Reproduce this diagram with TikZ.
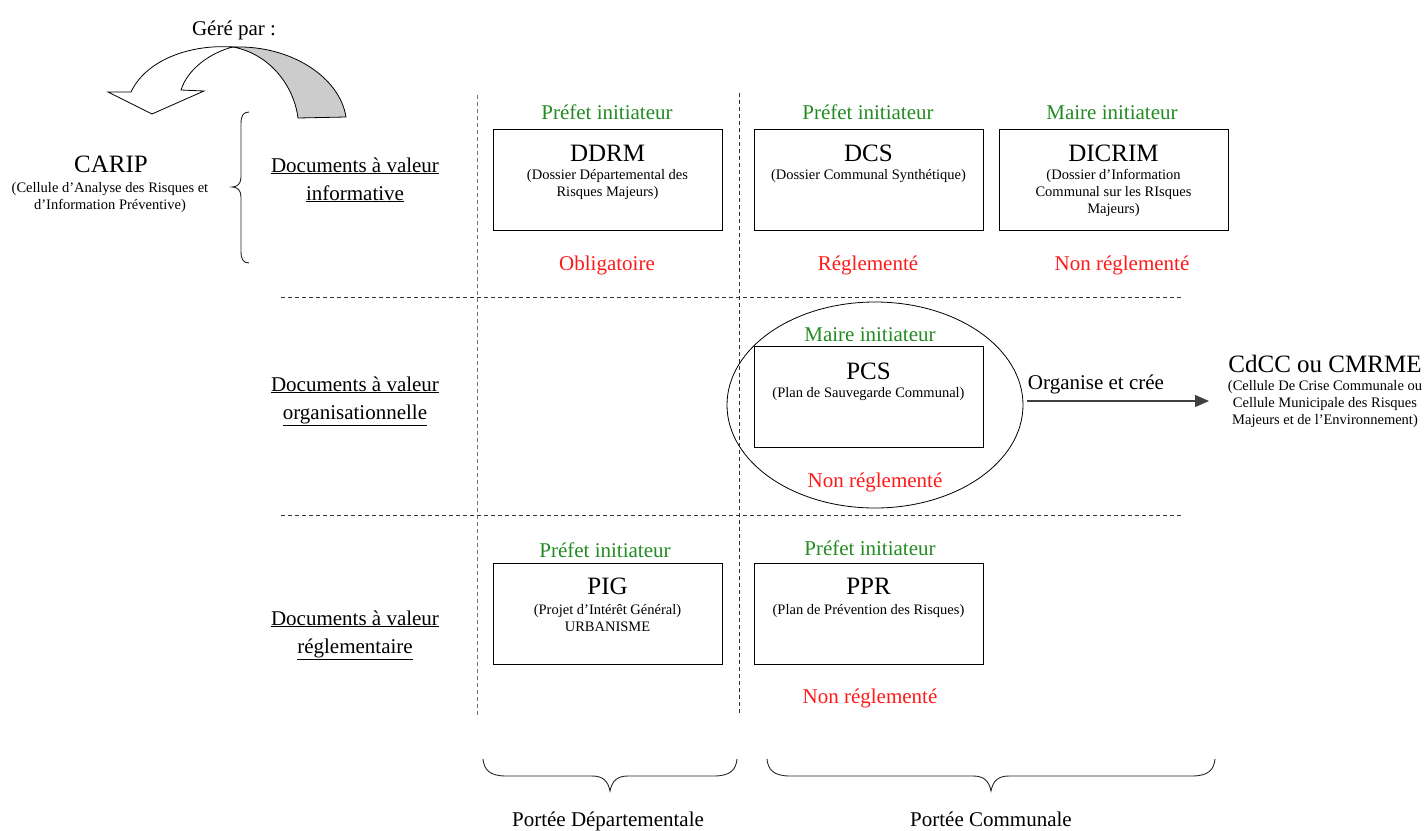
\documentclass[tikz,border=0pt]{standalone}
\usepackage{fontspec}
\setmainfont{Liberation Serif}
\usetikzlibrary{arrows.meta,shapes.geometric}
\definecolor{grn}{RGB}{34,139,34}
\definecolor{rd}{RGB}{255,25,25}
\definecolor{arrowgray}{RGB}{204,204,204}
\begin{document}
\begin{tikzpicture}[x=1pt,y=-1pt,
  lbl/.style={font=\fontsize{21}{28}\selectfont, inner sep=0, anchor=base, align=center},
  ini/.style={lbl, text=grn},
  stat/.style={lbl, text=rd},
  rowlbl/.style={lbl},
  docbox/.style={draw, line width=1pt, minimum width=229pt, minimum height=101pt, inner sep=0},
  ttl/.style={font=\fontsize{25}{28}\selectfont, inner sep=0, anchor=base},
  sub/.style={font=\fontsize{14.5}{17}\selectfont, inner sep=0, anchor=base, align=center},
  sep/.style={dashed, dash pattern=on 4pt off 3pt, line width=0.8pt},
  brc/.style={line width=0.9pt, black!85},
  arr/.style={line width=1.1pt, black!75, -{Triangle[length=14pt,width=12pt]}}
]
\useasboundingbox (0,0) rectangle (1427,830);

% ---- curved "Géré par" arrow
\node[lbl] (gere) at (234,35) {Géré par :};
\draw[line width=0.8pt, fill=white] (131,92) .. controls (146,60) and (190,44) .. (233,47)
   .. controls (212,52) and (188,68) .. (181,90) -- (204,91) -- (152,114) -- (108,92) -- cycle;
\draw[line width=0.8pt, fill=arrowgray] (233,47) .. controls (292,45) and (340,78) .. (346,117)
   -- (298,118) .. controls (294,86) and (270,54) .. (233,47) -- cycle;

% ---- CARIP
\node[ttl] (carip) at (111,172) {CARIP};
\node[sub] (caripsub) at (110,209) {(Cellule d’Analyse des Risques et\\d’Information Préventive)};
\draw[brc] (249,112) .. controls (243,112) and (241,116) .. (241,124) -- (241,177)
   .. controls (241,184) and (237,187) .. (232,187)
   .. controls (237,187) and (241,190) .. (241,197) -- (241,251)
   .. controls (241,259) and (243,263) .. (249,263);

% ---- row labels (base = last line)
\node[rowlbl] (row1) at (355,200) {\underline{Documents à valeur}\\\underline{informative}};
\node[rowlbl] (row2) at (355,419) {\underline{Documents à valeur}\\\underline{organisationnelle}};
\node[rowlbl] (row3) at (355,653) {\underline{Documents à valeur}\\\underline{réglementaire}};

% ---- separators
\draw[sep, black!55] (477,95) -- (477,718);
\draw[sep, black!80] (739,93) -- (739,714);
\draw[sep, black!80] (281,297) -- (1181,297);
\draw[sep, black!80] (281,515) -- (1181,515);

% ---- row 1
\node[docbox] (ddrm) at (607.5,179.5) {};
\node[ttl] (ddrmt) at ([yshift=-33pt]ddrm.north) {DDRM};
\node[sub] (ddrms) at ([yshift=-68pt]ddrm.north) {(Dossier Départemental des\\Risques Majeurs)};
\node[ini] (ddrmi) at (607,119) {Préfet initiateur};
\node[stat] (ddrmr) at (607,270) {Obligatoire};

\node[docbox] (dcs) at (868.5,179.5) {};
\node[ttl] (dcst) at ([yshift=-33pt]dcs.north) {DCS};
\node[sub] (dcss) at ([yshift=-51pt]dcs.north) {(Dossier Communal Synthétique)};
\node[ini] (dcsi) at (868,119) {Préfet initiateur};
\node[stat] (dcsr) at (868,270) {Réglementé};

\node[docbox] (dicrim) at (1113.5,179.5) {};
\node[ttl] (dicrimt) at ([yshift=-33pt]dicrim.north) {DICRIM};
\node[sub] (dicrims) at ([yshift=-85pt]dicrim.north) {(Dossier d’Information\\Communal sur les RIsques\\Majeurs)};
\node[ini] (dicrimi) at (1112,119) {Maire initiateur};
\node[stat] (dicrimr) at (1122,270) {Non réglementé};

% ---- row 2
\node[draw, ellipse, line width=0.8pt, minimum width=296pt, minimum height=206pt, inner sep=0] (pcsell) at (875,405) {};
\node[docbox] (pcs) at (868.5,397) {};
\node[ttl] (pcst) at ([yshift=-33pt]pcs.north) {PCS};
\node[sub] (pcss) at ([yshift=-51pt]pcs.north) {(Plan de Sauvegarde Communal)};
\node[ini] (pcsi) at (870,341) {Maire initiateur};
\node[stat] (pcsr) at (875,487) {Non réglementé};

\coordinate (arrowend) at (1209,401);
\draw[arr] ([xshift=4pt]pcsell.east |- arrowend) -- (arrowend);
\node[lbl] (orga) at (1096,389) {Organise et crée};

\node[ttl] (cdcc) at (1325,372) {CdCC ou CMRME};
\node[sub] (cdccs) at (1325,424) {(Cellule De Crise Communale ou\\Cellule Municipale des Risques\\Majeurs et de l’Environnement)};

% ---- row 3
\node[docbox] (pig) at (607.5,613.5) {};
\node[ttl] (pigt) at ([yshift=-32pt]pig.north) {PIG};
\node[sub] (pigs) at ([yshift=-69pt]pig.north) {(Projet d’Intérêt Général)\\URBANISME};
\node[ini] (pigi) at (605,557) {Préfet initiateur};

\node[docbox] (ppr) at (868.5,613.5) {};
\node[ttl] (pprt) at ([yshift=-32pt]ppr.north) {PPR};
\node[sub] (pprs) at ([yshift=-52pt]ppr.north) {(Plan de Prévention des Risques)};
\node[ini] (ppri) at (870,555) {Préfet initiateur};
\node[stat] (pprr) at (870,703) {Non réglementé};

% ---- bottom braces
\draw[brc] (483,759) .. controls (484,770) and (490,776) .. (506,776) -- (592,776)
   .. controls (603,776) and (608,781) .. (610,791)
   .. controls (612,781) and (617,776) .. (628,776) -- (714,776)
   .. controls (730,776) and (736,770) .. (737,759);
\draw[brc] (767,759) .. controls (768,770) and (774,776) .. (790,776) -- (973,776)
   .. controls (984,776) and (989,781) .. (991,791)
   .. controls (993,781) and (998,776) .. (1009,776) -- (1192,776)
   .. controls (1208,776) and (1214,770) .. (1215,759);
\node[lbl] (portdep) at (608,826) {Portée Départementale};
\node[lbl] (portcom) at (991,826) {Portée Communale};
\end{tikzpicture}
\end{document}
